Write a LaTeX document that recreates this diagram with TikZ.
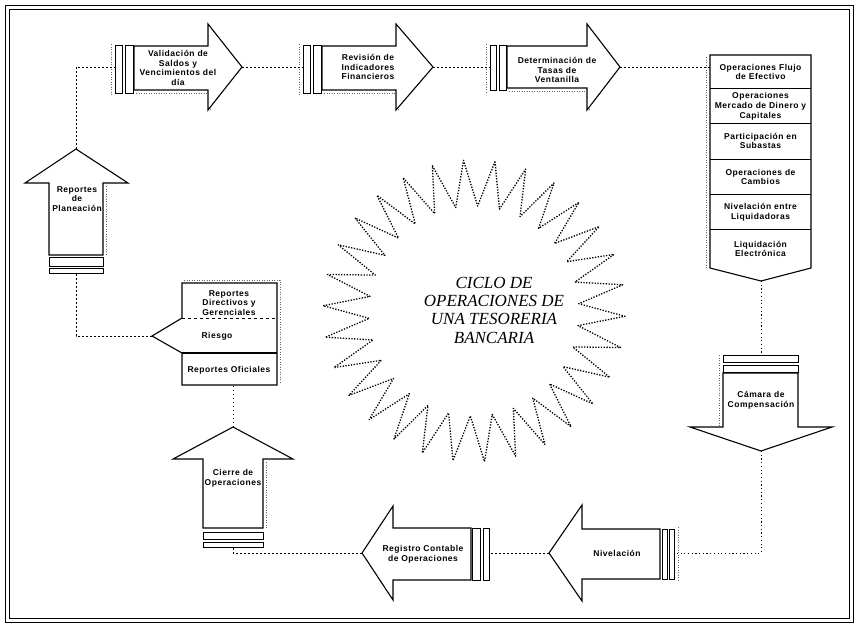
\documentclass[tikz,border=0pt]{standalone}
\usepackage{fontspec}
\setmainfont{Liberation Serif}
\newfontfamily\lblfont{Liberation Sans}[LetterSpace=6]
\begin{document}
\begin{tikzpicture}[x=1pt,y=-1pt,
  shp/.style={draw,line width=1.1pt,fill=white,line join=miter},
  barbox/.style={draw,line width=0.9pt,fill=white},
  lbl/.style={font=\lblfont\bfseries\fontsize{8.5}{9.8}\selectfont,align=center,inner sep=0pt},
  conn/.style={line width=0.8pt,dash pattern=on 2.2pt off 1.8pt},
  burst/.style={line width=1.3pt,dash pattern=on 1.3pt off 1.5pt,line join=round},
  sep/.style={line width=0.8pt},
  shade/.style={line width=0.7pt,black!60,dash pattern=on 1pt off 1.5pt},
  title/.style={font=\itshape\fontsize{17}{18.3}\selectfont,align=center,inner sep=0pt}]
\useasboundingbox (0,0) rectangle (858,627);
\fill[white] (0,0) rectangle (858,627);

% double frame
\draw[line width=0.8pt] (5,5) rectangle (853,622);
\draw[line width=0.8pt] (9,9) rectangle (849,618);

% ---------- top row: right-pointing arrows ----------
% Validacion
\draw[shade] (111,44) -- (111,95);
\draw[shade] (136,93) -- (210,93) -- (210,110);
\draw[barbox] (115,45) rectangle (122,93);
\draw[barbox] (125,45) rectangle (133,93);
\draw[shp] (134,46) -- (208,46) -- (208,24) -- (242,67) -- (208,110) -- (208,90) -- (134,90) -- cycle;
\coordinate (a1in) at (115,67);
\coordinate (a1tip) at (242,67);
\node[lbl] (t1) at (178,68) {Validación de\\Saldos y\\Vencimientos del\\día};

% Revision
\draw[shade] (299,44) -- (299,95);
\draw[shade] (324,93) -- (398,93) -- (398,110);
\draw[barbox] (303,45) rectangle (310,93);
\draw[barbox] (313,45) rectangle (321,93);
\draw[shp] (322,46) -- (396,46) -- (396,24) -- (433,67) -- (396,110) -- (396,90) -- (322,90) -- cycle;
\coordinate (a2in) at (303,67);
\coordinate (a2tip) at (433,67);
\node[lbl] (t2) at (368,67) {Revisión de\\Indicadores\\Financieros};

% Determinacion
\draw[shade] (486,44) -- (486,92);
\draw[shade] (509,91) -- (589,91) -- (589,110);
\draw[barbox] (490,45) rectangle (496,90);
\draw[barbox] (499,45) rectangle (506,90);
\draw[shp] (507,46) -- (587,46) -- (587,24) -- (620,67) -- (587,110) -- (587,88) -- (507,88) -- cycle;
\coordinate (a3in) at (490,67);
\coordinate (a3tip) at (620,67);
\node[lbl] (t3) at (557,70) {Determinación de\\Tasas de\\Ventanilla};

% ---------- right panel ----------
\draw[shade] (706,57) -- (706,268);
\draw[shp] (710,55) -- (811,55) -- (811,268) -- (761,281) -- (710,268) -- cycle;
\foreach \yy in {88,123,159,194,229} \draw[sep] (710,\yy) -- (811,\yy);
\coordinate (pin) at (710,67);
\coordinate (ptip) at (761,281);
\node[lbl] (p1) at (760.5,72) {Operaciones Flujo\\de Efectivo};
\node[lbl] (p2) at (760.5,106) {Operaciones\\Mercado de Dinero y\\Capitales};
\node[lbl] (p3) at (760.5,141) {Participación en\\Subastas};
\node[lbl] (p4) at (760.5,177) {Operaciones de\\Cambios};
\node[lbl] (p5) at (760.5,212) {Nivelación entre\\Liquidadoras};
\node[lbl] (p6) at (760.5,249) {Liquidación\\Electrónica};

% ---------- Camara (down arrow) ----------
\draw[shade] (719,355) -- (719,427);
\draw[barbox] (723,355) rectangle (798,362);
\draw[barbox] (723,365) rectangle (798,372);
\draw[shp] (723,373) -- (798,373) -- (798,427) -- (832,427) -- (761,451) -- (690,427) -- (723,427) -- cycle;
\coordinate (cin) at (761,355);
\coordinate (ctip) at (761,451);
\node[lbl] (tc) at (761,400) {Cámara de\\Compensación};

% ---------- bottom row: left-pointing arrows ----------
% Nivelacion
\draw[shade] (678,527) -- (678,581);
\draw[barbox] (662,529) rectangle (667,579);
\draw[barbox] (669,529) rectangle (674,579);
\draw[shp] (660,529) -- (582,529) -- (582,505) -- (549,553) -- (582,601) -- (582,579) -- (660,579) -- cycle;
\coordinate (nin) at (674,553);
\coordinate (ntip) at (549,553);
\node[lbl] (tn) at (617,553) {Nivelación};

% Registro
\draw[barbox] (472,528) rectangle (480,580);
\draw[barbox] (483,528) rectangle (489,580);
\draw[shp] (471,528) -- (393,528) -- (393,506) -- (362,553) -- (393,600) -- (393,580) -- (471,580) -- cycle;
\coordinate (rin) at (489,553);
\coordinate (rtip) at (362,553);
\node[lbl] (tr) at (423,554) {Registro Contable\\de Operaciones};

% ---------- Cierre (up arrow) ----------
\draw[shade] (266,462) -- (266,528);
\draw[shp] (203,528) -- (203,459) -- (173,459) -- (233,427) -- (293,459) -- (263,459) -- (263,528) -- cycle;
\draw[barbox] (203,532) rectangle (263,539);
\draw[barbox] (203,542) rectangle (263,547);
\coordinate (zin) at (233,547);
\coordinate (ztip) at (233,427);
\node[lbl] (tz) at (233,478) {Cierre de\\Operaciones};

% ---------- reports panel ----------
\draw[shade] (184,280) -- (280,280) -- (280,383);
\draw[shp] (182,283) -- (277,283) -- (277,385) -- (182,385) -- (182,353) -- (152,336) -- (182,318) -- cycle;
\draw[sep,dashed] (182,318) -- (277,318);
\draw[line width=1.1pt] (182,353) -- (277,353);
\coordinate (lbot) at (233,385);
\coordinate (ltip) at (152,336);
\node[lbl] (l1) at (229,303) {Reportes\\Directivos y\\Gerenciales};
\node[lbl] (l2) at (217,336) {Riesgo};
\node[lbl] (l3) at (229,370) {Reportes Oficiales};

% ---------- Planeacion (up arrow) ----------
\draw[shade] (106,186) -- (106,255);
\draw[shp] (49,255) -- (49,183) -- (25,183) -- (76,149) -- (128,183) -- (103,183) -- (103,255) -- cycle;
\draw[barbox] (49,257) rectangle (103,266);
\draw[barbox] (49,268) rectangle (103,273);
\coordinate (qin) at (76,273);
\coordinate (qtip) at (76,149);
\node[lbl] (tq) at (77,199) {Reportes\\de\\Planeación};

% ---------- connectors ----------
\draw[conn] (qtip) |- (a1in);
\draw[conn] (a1tip) -- (a2in);
\draw[conn] (a2tip) -- (a3in);
\draw[conn] (a3tip) -- (pin);
\draw[conn,dash pattern=on 1.2pt off 2.5pt] (ptip) -- (cin);
\draw[conn,dash pattern=on 1.2pt off 2.5pt] (ctip) |- (nin);
\draw[conn] (ntip) -- (rin);
\draw[conn] (rtip) -| (zin);
\draw[conn,dash pattern=on 1pt off 3pt] (ztip) -- (lbot);
\draw[conn] (ltip) -| (qin);

% ---------- central starburst (30 points) ----------
\draw[burst] plot[samples at={0,...,59}, variable=\i]
  ({474+(105+46*(1-mod(\i,2)))*cos(\i*6-82)},
   {311+(105+46*(1-mod(\i,2)))*sin(\i*6-82)}) -- cycle;
\node[title] (ttl) at (494,310) {CICLO DE\\OPERACIONES DE\\UNA TESORERIA\\BANCARIA};
\end{tikzpicture}
\end{document}
